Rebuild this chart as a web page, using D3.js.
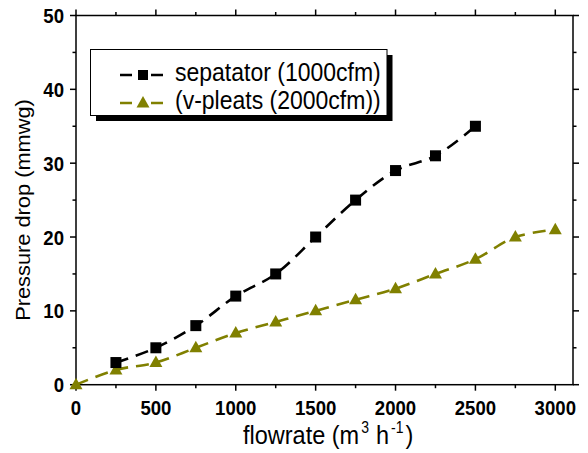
<!DOCTYPE html>
<html><head><meta charset="utf-8">
<script src="https://cdn.jsdelivr.net/npm/d3@7"></script>
<style>body{margin:0;background:#fff}svg{display:block}text{font-family:Arial,"Liberation Sans",sans-serif}</style>
</head><body>
<svg id="c" width="588" height="453"></svg>
<script>
const sepX = [250,500,750,1000,1250,1500,1750,2000,2250,2500];
const sepY = [3,5,8,12,15,20,25,29,31,35];
const vpX = [0,250,500,750,1000,1250,1500,1750,2000,2250,2500,2750,3000];
const vpY = [0,2,3,5,7,8.5,10,11.5,13,15,17,20,21];
const xTicks = [0,500,1000,1500,2000,2500,3000];
const yTicks = [0,10,20,30,40,50];
const seriesNames = ["sepatator (1000cfm)","(v-pleats (2000cfm))"];
const colors = ["#000000","#808000"];

const SY = 1.13; // vertical stretch of the original text
const svg = d3.select("#c");
const L=76, R=573, T=15.5, B=384.7;
const x = d3.scaleLinear().domain([0,3000]).range([L,555.3]);
const y = d3.scaleLinear().domain([0,50]).range([B,T]);

svg.append("rect").attr("x",L).attr("y",T).attr("width",R-L).attr("height",B-T)
  .attr("fill","none").attr("stroke","#000").attr("stroke-width",1.5);

const xMinor = d3.range(250,3001,500);
const yMinor = d3.range(5,50,10);
const tk = svg.append("g").attr("stroke","#000").attr("stroke-width",1.5);
xTicks.forEach(v=>{ tk.append("line").attr("x1",x(v)).attr("x2",x(v)).attr("y1",B).attr("y2",B+6);
  tk.append("line").attr("x1",x(v)).attr("x2",x(v)).attr("y1",T).attr("y2",T-6);});
xMinor.forEach(v=>{ tk.append("line").attr("x1",x(v)).attr("x2",x(v)).attr("y1",B).attr("y2",B+3.5);
  tk.append("line").attr("x1",x(v)).attr("x2",x(v)).attr("y1",T).attr("y2",T-3.5);});
yTicks.forEach(v=>{ tk.append("line").attr("x1",L).attr("x2",L-6).attr("y1",y(v)).attr("y2",y(v));
  tk.append("line").attr("x1",R).attr("x2",R+6).attr("y1",y(v)).attr("y2",y(v));});
yMinor.forEach(v=>{ tk.append("line").attr("x1",L).attr("x2",L-3.5).attr("y1",y(v)).attr("y2",y(v));
  tk.append("line").attr("x1",R).attr("x2",R+3.5).attr("y1",y(v)).attr("y2",y(v));});

svg.append("g").selectAll("text").data(xTicks).join("text")
  .attr("transform",d=>`translate(${x(d)},415) scale(1,${SY})`).attr("text-anchor","middle")
  .attr("font-size",18.6).attr("font-weight","bold").text(d=>d);
svg.append("g").selectAll("text").data(yTicks).join("text")
  .attr("transform",d=>`translate(64,${y(d)+7.5}) scale(1,${SY})`).attr("text-anchor","end")
  .attr("font-size",18.6).attr("font-weight","bold").text(d=>d);

// axis titles
const xt = svg.append("text").attr("transform",`translate(243,444) scale(1,${SY})`).attr("font-size",23.5);
xt.append("tspan").text("flowrate (m");
xt.append("tspan").attr("font-size",14).attr("dy",-10).attr("dx",2).text("3");
xt.append("tspan").attr("dy",10).attr("dx",7).text("h");
xt.append("tspan").attr("font-size",14).attr("dy",-10).attr("dx",2).text("-1");
xt.append("tspan").attr("dy",10).attr("dx",2).text(")");
svg.append("text").attr("transform",`translate(30,210) rotate(-90) scale(${SY},1)`).attr("text-anchor","middle")
  .attr("font-size",19.3).text("Pressure drop (mmwg)");

// lines
const line = d3.line().x(d=>x(d[0])).y(d=>y(d[1])).curve(d3.curveCatmullRom.alpha(0.5));
const sep = sepX.map((v,i)=>[v,sepY[i]]);
const vp = vpX.map((v,i)=>[v,vpY[i]]);
svg.append("path").attr("d",line(vp)).attr("fill","none").attr("stroke",colors[1])
  .attr("stroke-width",2.6).attr("stroke-dasharray","13,8");
svg.append("path").attr("d",line(sep)).attr("fill","none").attr("stroke",colors[0])
  .attr("stroke-width",2.6).attr("stroke-dasharray","13,8");

const triPath = "M0,-7L6.5,4.5L-6.5,4.5Z";
svg.append("g").selectAll("path").data(vp).join("path")
  .attr("d",triPath).attr("transform",d=>`translate(${x(d[0])},${y(d[1])})`).attr("fill",colors[1]);
svg.append("g").selectAll("rect").data(sep).join("rect")
  .attr("x",d=>x(d[0])-5.5).attr("y",d=>y(d[1])-5.5).attr("width",11).attr("height",11).attr("fill",colors[0]);

// legend
const lg = svg.append("g");
lg.append("rect").attr("x",96).attr("y",55).attr("width",296.5).attr("height",66).attr("fill","#000");
lg.append("rect").attr("x",90.5).attr("y",49.5).attr("width",296.5).attr("height",66)
  .attr("fill","#fff").attr("stroke","#000").attr("stroke-width",1);
[75,103].forEach((cy,i)=>{
  lg.append("line").attr("x1",120).attr("x2",163).attr("y1",cy).attr("y2",cy)
    .attr("stroke",colors[i]).attr("stroke-width",2.6).attr("stroke-dasharray","12,19");
  if(i===0) lg.append("rect").attr("x",138).attr("y",cy-5).attr("width",10).attr("height",10).attr("fill",colors[0]);
  else lg.append("path").attr("d",triPath).attr("transform",`translate(143,${cy})`).attr("fill",colors[1]);
  lg.append("text").attr("transform",`translate(175,${cy+5.5}) scale(1,${SY})`).attr("font-size",23).text(seriesNames[i]);
});
</script>
</body></html>
